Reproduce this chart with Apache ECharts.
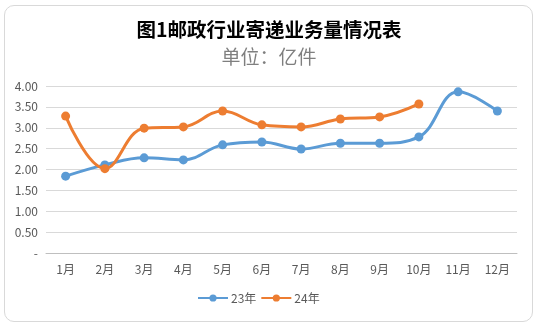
<!DOCTYPE html>
<html><head><meta charset="utf-8">
<script src="https://cdn.jsdelivr.net/npm/echarts@6/dist/echarts.min.js"></script>
<style>
html,body{margin:0;padding:0;background:#fff;}
#box{position:absolute;left:4px;top:5px;width:527px;height:315px;border:1.5px solid #d9d9d9;border-radius:10px;}
#c{position:absolute;left:0;top:0;width:538px;height:327px;}
</style></head>
<body><div id="box"></div><div id="c"></div>
<script>
const categories = ['1月','2月','3月','4月','5月','6月','7月','8月','9月','10月','11月','12月'];
const s23 = [1.84,2.11,2.28,2.23,2.59,2.66,2.49,2.63,2.63,2.78,3.86,3.40];
const s24 = [3.28,2.02,2.99,3.02,3.40,3.07,3.02,3.21,3.26,3.57];
const yTicks = [0,0.5,1,1.5,2,2.5,3,3.5,4];
const font = '"Noto Sans CJK SC", "Noto Sans", sans-serif';
const chart = echarts.init(document.getElementById('c'));
function mk(name, data, color){
  return {name, type:'line', data, smooth:0.4, symbol:'circle', symbolSize:9,
    lineStyle:{width:3, color}, itemStyle:{color}, z: name==='24年'?3:2};
}
chart.setOption({
  animation:false,
  textStyle:{fontFamily:font},
  title:[
    {text:'图1邮政行业寄递业务量情况表', left:'center', top:15,
     textStyle:{fontFamily:font, fontSize:19.5, fontWeight:'bold', color:'#000'}},
    {text:'单位：亿件', left:'center', top:42,
     textStyle:{fontFamily:font, fontSize:19, fontWeight:'normal', color:'#7f7f7f'}}
  ],
  legend:{bottom:18, left:192, itemWidth:30, itemHeight:9, itemGap:4,
    textStyle:{fontFamily:font, fontSize:12, color:'#595959', padding:[0,0,0,-2]},
    data:['23年','24年']},
  grid:{left:46, right:21, top:86, bottom:74},
  xAxis:{type:'category', data:categories, boundaryGap:true,
    axisLine:{lineStyle:{color:'#bfbfbf'}},
    axisTick:{length:5, lineStyle:{color:'#bfbfbf'}},
    axisLabel:{color:'#595959', fontSize:12, margin:10, fontFamily:font}},
  yAxis:{type:'value', min:0, max:4, interval:0.5,
    axisLine:{show:false}, axisTick:{show:false},
    splitLine:{lineStyle:{color:'#d9d9d9', width:1}},
    axisLabel:{color:'#595959', fontSize:12, margin:8, fontFamily:font,
      formatter:v=> yTicks.indexOf(v)===0 ? '-' : v.toFixed(2)}},
  series:[mk('23年', s23, '#5B9BD5'), mk('24年', s24, '#ED7D31')]
});
</script></body></html>
